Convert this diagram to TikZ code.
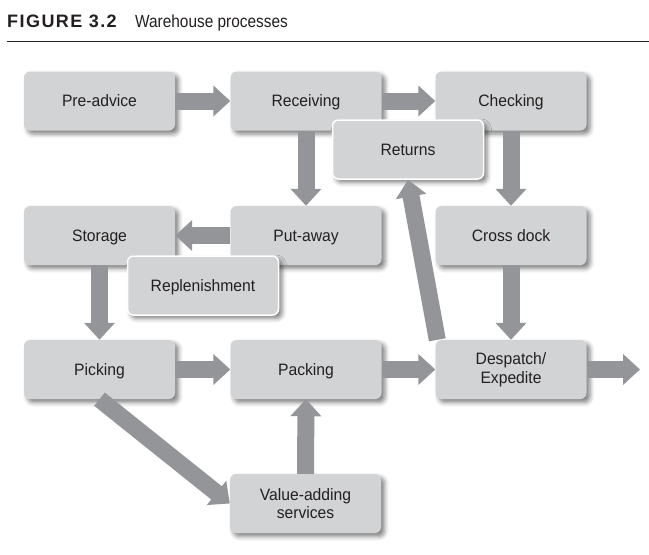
\documentclass[tikz,border=0pt]{standalone}
\usepackage{fontspec}
\setmainfont{Liberation Sans}
\usetikzlibrary{arrows.meta,shadows.blur}
\definecolor{boxgray}{HTML}{D1D3D4}
\definecolor{arrowgray}{HTML}{939598}
\definecolor{inkblack}{HTML}{231F20}
\tikzset{
  procbox/.style={fill=boxgray, rounded corners=6pt, minimum width=151pt, minimum height=59pt,
    align=center, text=inkblack, text height=11.8pt, text depth=0pt,
    font=\fontsize{16.5}{18.5}\selectfont\addfontfeature{FakeStretch=0.95},
    blur shadow={shadow xshift=3.5pt, shadow yshift=-3.5pt, shadow blur radius=4.5pt, shadow opacity=50}},
  twolines/.style={text height={}, text depth={}},
  overbox/.style={procbox, draw=white, line width=1.5pt},
  flow/.style={draw=arrowgray, line width=17pt, -{Triangle[width=30pt,length=17pt]}, arrowgray}
}
\begin{document}
\begin{tikzpicture}[x=1pt,y=-1pt]
  \useasboundingbox (0,0) rectangle (649,555);
  %% caption
  \node (figno) [anchor=base west, inner sep=0pt, text=inkblack] at (7,27)
    {\fontsize{18}{20}\selectfont\bfseries\addfontfeature{LetterSpace=8}FIGURE 3.2};
  \node (figtitle) [anchor=base west, inner sep=0pt, text=inkblack] at (135,27)
    {\fontsize{17.5}{20}\selectfont\addfontfeature{FakeStretch=0.88}Warehouse processes};
  \draw[line width=1pt, inkblack] (7,41) -- (649,41);
  %% main boxes
  \node[procbox] (pre) at (99.5,101) {Pre-advice};
  \node[procbox] (recv) at (306,101) {Receiving};
  \node[procbox] (check) at (511,101) {Checking};
  \node[procbox] (store) at (99.5,235.5) {Storage};
  \node[procbox] (put) at (306,235.5) {Put-away};
  \node[procbox] (cross) at (511,235.5) {Cross dock};
  \node[procbox] (pick) at (99.5,369.5) {Picking};
  \node[procbox] (pack) at (306,369.5) {Packing};
  \node[procbox,twolines] (desp) at (511,369.5) {Despatch/\\Expedite};
  \node[procbox,twolines] (value) at (305.5,503.5) {Value-adding\\services};
  \coordinate (out) at (640,369.5);
  %% flows
  \draw[flow] (pre.east) -- (recv.west);
  \draw[flow] (recv.east) -- (check.west);
  \draw[flow] (recv.south) -- (put.north);
  \draw[flow] (check.south) -- (cross.north);
  \draw[flow] (put.west) -- (store.east);
  \draw[flow] (store.south) -- (pick.north);
  \draw[flow] (cross.south) -- (desp.north);
  \draw[flow] (pick.east) -- (pack.west);
  \draw[flow] (pack.east) -- (desp.west);
  \draw[flow] (desp.east) -- (out);
  \draw[flow] (pick.south) -- (value.west);
  \draw[flow] (value.north) -- (pack.south);
  %% boxes lying over the flows
  \node[overbox] (returns) at (408,149.5) {Returns};
  \node[overbox] (repl) at (203,285.5) {Replenishment};
  \draw[flow] ([xshift=2pt]desp.north west) -- (returns.south);
\end{tikzpicture}
\end{document}
